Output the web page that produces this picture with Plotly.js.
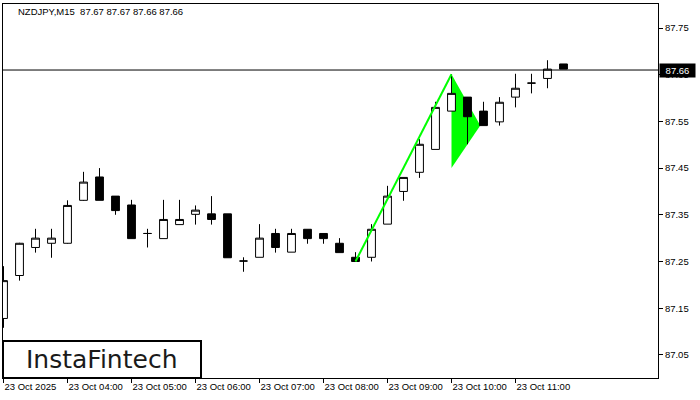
<!DOCTYPE html>
<html>
<head>
<meta charset="utf-8">
<script src="https://cdn.plot.ly/plotly-3.0.1.min.js"></script>
<style>html,body{margin:0;padding:0;background:#fff;}#chart{width:700px;height:400px;}</style>
</head>
<body>
<div id="chart"></div>
<script>
// ---- data ----
var times = [
  "2025-10-23 03:00","2025-10-23 03:15","2025-10-23 03:30","2025-10-23 03:45",
  "2025-10-23 04:00","2025-10-23 04:15","2025-10-23 04:30","2025-10-23 04:45",
  "2025-10-23 05:00","2025-10-23 05:15","2025-10-23 05:30","2025-10-23 05:45",
  "2025-10-23 06:00","2025-10-23 06:15","2025-10-23 06:30","2025-10-23 06:45",
  "2025-10-23 07:00","2025-10-23 07:15","2025-10-23 07:30","2025-10-23 07:45",
  "2025-10-23 08:00","2025-10-23 08:15","2025-10-23 08:30","2025-10-23 08:45",
  "2025-10-23 09:00","2025-10-23 09:15","2025-10-23 09:30","2025-10-23 09:45",
  "2025-10-23 10:00","2025-10-23 10:15","2025-10-23 10:30","2025-10-23 10:45",
  "2025-10-23 11:00","2025-10-23 11:15","2025-10-23 11:30","2025-10-23 11:45"
];
var openP  = [87.128,87.220,87.280,87.289,87.289,87.381,87.431,87.390,87.371,87.310,87.299,87.329,
              87.351,87.352,87.352,87.251,87.259,87.310,87.270,87.319,87.310,87.289,87.259,87.259,
              87.330,87.400,87.441,87.490,87.572,87.602,87.572,87.549,87.602,87.632,87.642,87.673];
var highP  = [87.240,87.290,87.320,87.320,87.381,87.442,87.450,87.390,87.382,87.320,87.382,87.382,
              87.370,87.390,87.352,87.259,87.330,87.320,87.320,87.319,87.310,87.300,87.270,87.330,
              87.412,87.430,87.512,87.592,87.651,87.602,87.592,87.602,87.652,87.652,87.681,87.673];
var lowP   = [87.108,87.209,87.269,87.258,87.288,87.380,87.381,87.350,87.299,87.280,87.299,87.329,
              87.329,87.329,87.258,87.228,87.259,87.269,87.270,87.288,87.288,87.269,87.250,87.250,
              87.330,87.380,87.429,87.490,87.572,87.501,87.541,87.541,87.580,87.610,87.621,87.662];
var closeP = [87.209,87.289,87.300,87.300,87.370,87.420,87.381,87.359,87.299,87.310,87.340,87.340,
              87.360,87.340,87.258,87.251,87.300,87.280,87.310,87.299,87.299,87.269,87.250,87.319,
              87.390,87.430,87.501,87.580,87.610,87.560,87.541,87.591,87.621,87.632,87.662,87.662];

var symbolTitle = "NZDJPY,M15  87.67 87.67 87.66 87.66";
var currentPrice = 87.66;

// pole of the bullish pennant (from low of 08:30 to high of 10:00)
var poleTimes  = ["2025-10-23 08:30","2025-10-23 10:00"];
var polePrices = [87.250, 87.651];
// pennant flag triangle
var flagTimes  = ["2025-10-23 10:00","2025-10-23 10:27","2025-10-23 10:00"];
var flagPrices = [87.651, 87.541, 87.450];

var yTickVals = [87.05,87.15,87.25,87.35,87.45,87.55,87.65,87.75];
var xTickVals = ["2025-10-23 03:00","2025-10-23 04:00","2025-10-23 05:00","2025-10-23 06:00",
                 "2025-10-23 07:00","2025-10-23 08:00","2025-10-23 09:00","2025-10-23 10:00","2025-10-23 11:00"];
var xTickText = ["23 Oct 2025","23 Oct 04:00","23 Oct 05:00","23 Oct 06:00",
                 "23 Oct 07:00","23 Oct 08:00","23 Oct 09:00","23 Oct 10:00","23 Oct 11:00"];

var FONT = "Liberation Sans, Arial, sans-serif";

function toMs(t) { return Date.parse(t.replace(" ", "T") + ":00Z"); }
var flagPath = flagTimes.map(function(t, i) {
  return (i === 0 ? "M" : "L") + toMs(t) + "," + flagPrices[i];
}).join(" ") + " Z";

var traces = [
  {
    type: "candlestick", x: times, open: openP, high: highP, low: lowP, close: closeP,
    increasing: {line: {color: "#000000", width: 1}, fillcolor: "#ffffff"},
    decreasing: {line: {color: "#000000", width: 1}, fillcolor: "#000000"},
    whiskerwidth: 0, hoverinfo: "skip", showlegend: false
  },
  {
    type: "scatter", x: poleTimes, y: polePrices, mode: "lines",
    line: {color: "#00ff00", width: 2}, hoverinfo: "skip", showlegend: false
  }
];

var layout = {
  width: 700, height: 400,
  margin: {l: 3, r: 42, t: 4, b: 22, pad: 0},
  paper_bgcolor: "#ffffff", plot_bgcolor: "#ffffff",
  showlegend: false, hovermode: false,
  font: {family: FONT, size: 9.5, color: "#000000"},
  title: {
    text: symbolTitle, xref: "paper", x: 0.0229, xanchor: "left",
    yref: "container", y: 0.97, yanchor: "middle",
    font: {family: FONT, size: 9.5, color: "#000000"}
  },
  xaxis: {
    type: "date",
    range: ["2025-10-23 02:59:32", "2025-10-23 13:13:36"],
    rangeslider: {visible: false},
    showgrid: false, zeroline: false,
    showline: true, mirror: true, linecolor: "#000000", linewidth: 1,
    ticks: "outside", ticklen: 4, tickcolor: "#000000", tickwidth: 1,
    tickmode: "array", tickvals: xTickVals, ticktext: xTickText,
    ticklabelposition: "outside right",
    tickfont: {family: FONT, size: 9.5, color: "#000000"},
    fixedrange: true
  },
  yaxis: {
    side: "right",
    range: [87.0005, 87.8014],
    showgrid: false, zeroline: false,
    showline: true, mirror: true, linecolor: "#000000", linewidth: 1,
    ticks: "outside", ticklen: 4, tickcolor: "#000000", tickwidth: 1,
    tickmode: "array", tickvals: yTickVals,
    ticktext: yTickVals.map(function(v){return v.toFixed(2);}),
    tickfont: {family: FONT, size: 9.5, color: "#000000"},
    fixedrange: true
  },
  shapes: [
    {type: "path", xref: "x", yref: "y", path: flagPath, layer: "below",
     fillcolor: "#00ff00", line: {width: 0, color: "#00ff00"}},
    {type: "line", xref: "paper", x0: 0, x1: 1, yref: "y", y0: currentPrice, y1: currentPrice,
     line: {color: "#000000", width: 1}},
    {type: "rect", xref: "paper", yref: "paper", x0: 0, x1: 0.3023, y0: 0, y1: 0.0989,
     fillcolor: "#ffffff", line: {color: "#000000", width: 2}, layer: "above"}
  ],
  annotations: [
    {xref: "paper", x: 1, xanchor: "left", xshift: 1, yref: "y", y: currentPrice, yanchor: "middle",
     text: currentPrice.toFixed(2), showarrow: false, bgcolor: "#000000",
     width: 33, height: 11, borderpad: 1,
     font: {family: FONT, size: 9.5, color: "#ffffff"}},
    {xref: "paper", x: 0.151, xanchor: "center", yref: "paper", y: 0.0508, yanchor: "middle",
     text: "InstaFintech", showarrow: false,
     font: {family: "DejaVu Sans, sans-serif", size: 25, color: "#1a1a1a"}}
  ]
};

Plotly.newPlot("chart", traces, layout, {staticPlot: true, displayModeBar: false});
</script>
</body>
</html>
